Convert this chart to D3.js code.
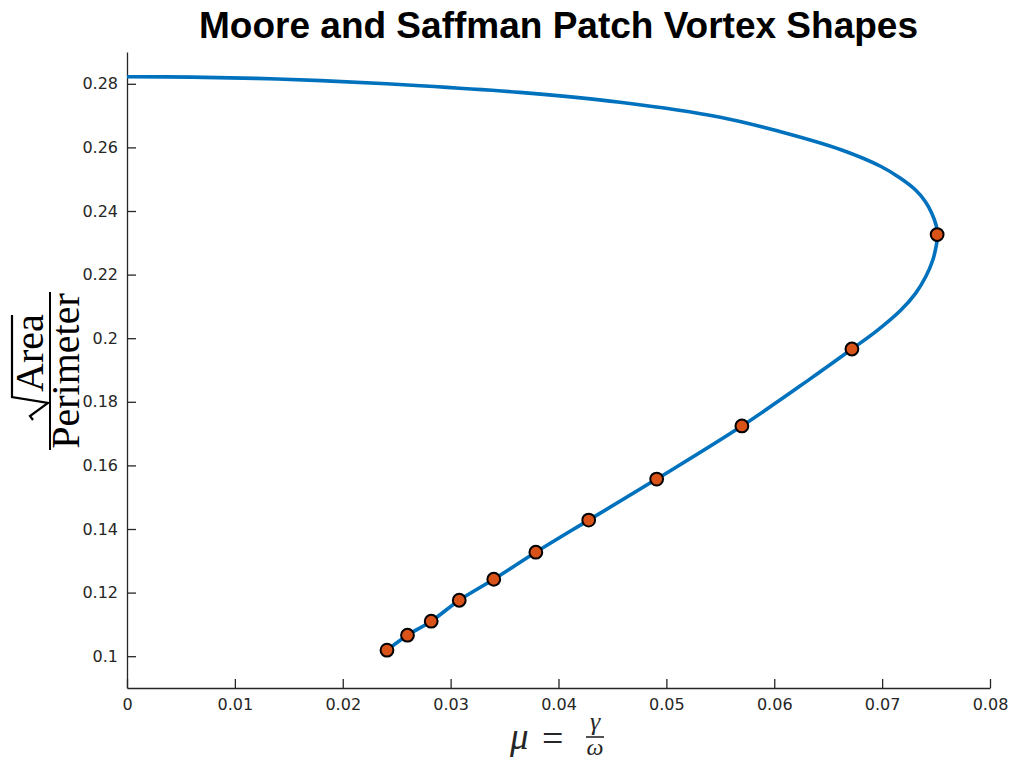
<!DOCTYPE html>
<html><head><meta charset="utf-8">
<script src="https://cdn.jsdelivr.net/npm/d3@7"></script>
<style>body{margin:0;background:#fff}svg{display:block}</style>
</head><body>
<svg id="c" width="1013" height="761"></svg>
<script>
// Curve samples along the solution branch (mu, sqrt(Area)/Perimeter)
const curveMu = [0, 0.006, 0.012, 0.018, 0.0272, 0.0364, 0.0457, 0.0550, 0.0605, 0.06625, 0.0699, 0.0717, 0.0731, 0.0740, 0.0746, 0.0750, 0.07515, 0.0750, 0.0747, 0.07405, 0.0731, 0.0717, 0.0695, 0.0672, 0.0632, 0.0570, 0.0491, 0.0428, 0.0379, 0.0340, 0.0308, 0.0282, 0.0260, 0.0241];
const curveRatio = [0.2822, 0.2821, 0.2817, 0.2810, 0.2794, 0.2773, 0.2742, 0.2695, 0.2650, 0.2592, 0.2540, 0.2503, 0.2466, 0.2430, 0.2393, 0.2356, 0.2326, 0.2288, 0.2246, 0.2194, 0.2141, 0.2087, 0.2023, 0.1966, 0.1869, 0.1724, 0.1557, 0.1428, 0.1327, 0.1242, 0.1176, 0.1110, 0.1066, 0.1019];
// Marked shapes
const markMu = [0.0241, 0.0260, 0.0282, 0.0308, 0.0340, 0.0379, 0.0428, 0.0491, 0.0570, 0.0672, 0.0751];
const markRatio = [0.1019, 0.1066, 0.1110, 0.1176, 0.1242, 0.1327, 0.1428, 0.1557, 0.1724, 0.1966, 0.2326];
const xTicks = [0, 0.01, 0.02, 0.03, 0.04, 0.05, 0.06, 0.07, 0.08];
const yTicks = [0.1, 0.12, 0.14, 0.16, 0.18, 0.2, 0.22, 0.24, 0.26, 0.28];

const svg = d3.select("#c");
const L = 127, R = 990, T = 52, B = 688;
const x = d3.scaleLinear().domain([0, 0.08]).range([L, R]);
const y = d3.scaleLinear().domain([0.09, 0.29]).range([B, T]);
const axisColor = "#262626";
const fmt = d => String(+d.toFixed(2));

const gx = svg.append("g").attr("transform", `translate(0,${B})`)
  .call(d3.axisBottom(x).tickValues(xTicks).tickFormat(fmt).tickSizeInner(-9).tickSizeOuter(0).tickPadding(11));
const gy = svg.append("g").attr("transform", `translate(${L},0)`)
  .call(d3.axisLeft(y).tickValues(yTicks).tickFormat(fmt).tickSizeInner(-9).tickSizeOuter(0).tickPadding(9));
[gx, gy].forEach(g => {
  g.select(".domain").attr("stroke", axisColor).attr("stroke-width", 1.3);
  g.selectAll(".tick line").attr("stroke", axisColor).attr("stroke-width", 1.3);
  g.selectAll(".tick text").attr("fill", axisColor).style("font-family", "'DejaVu Sans', sans-serif").style("font-size", "16px");
});

const pts = curveMu.map((m, i) => [m, curveRatio[i]]);
svg.append("path").datum(pts)
  .attr("d", d3.line().x(d => x(d[0])).y(d => y(d[1])).curve(d3.curveCatmullRom.alpha(0.5)))
  .attr("fill", "none").attr("stroke", "#0072BD").attr("stroke-width", 3.6);

svg.append("g").selectAll("circle").data(markMu.map((m, i) => [m, markRatio[i]])).join("circle")
  .attr("cx", d => x(d[0])).attr("cy", d => y(d[1])).attr("r", 6.4)
  .attr("fill", "#D95319").attr("stroke", "#000").attr("stroke-width", 2);

// Title
svg.append("text").attr("x", (L + R) / 2).attr("y", 38).attr("text-anchor", "middle")
  .style("font-family", "'Liberation Sans', Arial, sans-serif").style("font-weight", "bold").style("font-size", "37px")
  .attr("fill", "#000").text("Moore and Saffman Patch Vortex Shapes");

// Y label: sqrt(Area) / Perimeter, rotated
const yl = svg.append("g").attr("transform", "translate(50,371) rotate(-90)");
yl.append("line").attr("x1", -79).attr("x2", 79).attr("y1", 0).attr("y2", 0).attr("stroke", "#000").attr("stroke-width", 2);
yl.append("text").attr("x", 0).attr("y", 29).attr("text-anchor", "middle")
  .style("font-family", "'Liberation Serif', serif").style("font-size", "40px").attr("fill", "#000").text("Perimeter");
yl.append("text").attr("x", -21).attr("y", -7).attr("text-anchor", "start")
  .style("font-family", "'Liberation Serif', serif").style("font-size", "40px").attr("fill", "#000").text("Area");
yl.append("path").attr("d", "M-49,-17 L-45,-20 L-32,-2 L-26,-38 L56,-38")
  .attr("fill", "none").attr("stroke", "#000").attr("stroke-width", 2.2).attr("stroke-linejoin", "miter");

// X label: mu = gamma / omega
const xl = svg.append("g");
const ser = "'Liberation Serif', serif";
xl.append("text").attr("x", 510).attr("y", 749)
  .style("font-family", ser).style("font-style", "italic").style("font-size", "37px").attr("fill", "#262626").text("μ");
xl.append("text").attr("x", 542).attr("y", 751)
  .style("font-family", ser).style("font-size", "38px").attr("fill", "#262626").text("=");
xl.append("line").attr("x1", 586).attr("x2", 604).attr("y1", 737).attr("y2", 737).attr("stroke", "#262626").attr("stroke-width", 1.6);
xl.append("text").attr("x", 595).attr("y", 730).attr("text-anchor", "middle")
  .style("font-family", ser).style("font-style", "italic").style("font-size", "26px").attr("fill", "#262626").text("γ");
xl.append("text").attr("x", 595).attr("y", 755).attr("text-anchor", "middle")
  .style("font-family", ser).style("font-style", "italic").style("font-size", "24px").attr("fill", "#262626").text("ω");
</script>
</body></html>
